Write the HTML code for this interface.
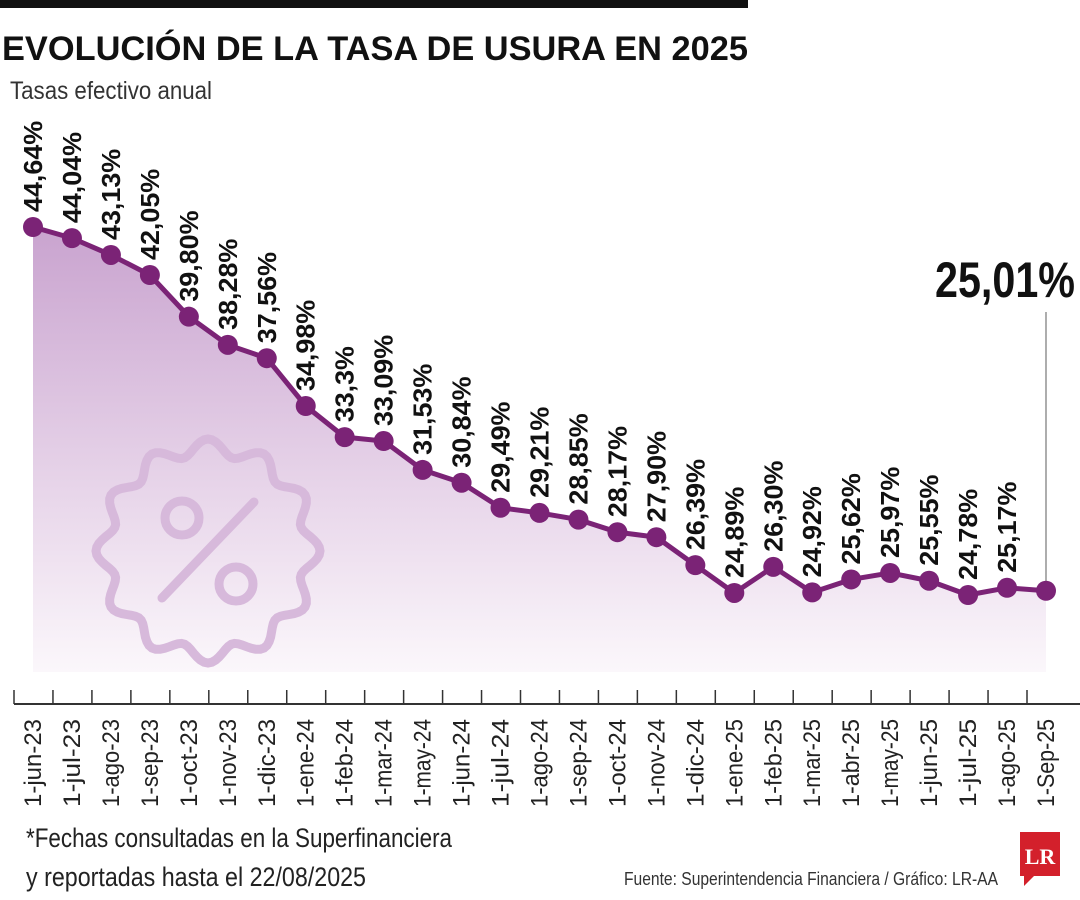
<!DOCTYPE html>
<html><head><meta charset="utf-8"><style>
body{margin:0;width:1080px;height:900px;background:#fff;overflow:hidden}
svg{display:block}
</style></head><body>
<svg width="1080" height="900" viewBox="0 0 1080 900" font-family="'Liberation Sans Narrow','Liberation Sans',sans-serif">
<defs>
<linearGradient id="fillg" x1="0" y1="0" x2="0" y2="1">
<stop offset="0" stop-color="#c9a3cf"/>
<stop offset="0.6" stop-color="#e8d6ea"/>
<stop offset="1" stop-color="#fbf7fb"/>
</linearGradient>
</defs>
<rect x="0" y="0" width="748" height="8" fill="#111"/>
<text x="2" y="60" font-family="'Liberation Sans',sans-serif" font-weight="bold" font-size="34" textLength="746" lengthAdjust="spacingAndGlyphs" fill="#111">EVOLUCIÓN DE LA TASA DE USURA EN 2025</text>
<text x="10" y="99" font-size="25" textLength="202" lengthAdjust="spacingAndGlyphs" fill="#333">Tasas efectivo anual</text>
<path id="area" fill="url(#fillg)"/>
<g id="badge" fill="none" stroke="#d7b9db" stroke-width="9">
<path id="badgePath"/>
<circle cx="182" cy="518" r="17"/>
<circle cx="236" cy="584" r="17"/>
<line x1="162" y1="598" x2="254" y2="502" stroke-linecap="round"/>
</g>
<line x1="14" y1="704" x2="1080" y2="704" stroke="#333" stroke-width="2"/>
<g id="ticks"></g>
<line x1="1046" y1="312" x2="1046" y2="588" stroke="#777" stroke-width="1.2"/>
<text x="935" y="297" font-weight="bold" font-size="50" textLength="140" lengthAdjust="spacingAndGlyphs" fill="#111">25,01%</text>
<polyline id="line" fill="none" stroke="#7b2376" stroke-width="5" stroke-linejoin="round"/>
<g id="pts"></g>
<g id="vals"></g>
<text x="26" y="847" font-size="27" textLength="426" lengthAdjust="spacingAndGlyphs" fill="#222">*Fechas consultadas en la Superfinanciera</text>
<text x="26" y="886" font-size="27" textLength="340" lengthAdjust="spacingAndGlyphs" fill="#222">y reportadas hasta el 22/08/2025</text>
<text x="624" y="885" font-size="18" textLength="374" lengthAdjust="spacingAndGlyphs" fill="#333">Fuente: Superintendencia Financiera / Gráfico: LR-AA</text>
<g>
<path d="M1020 832 H1060 V876 H1034 L1024 886 V876 H1020 Z" fill="#d3202b"/>
<text x="1040" y="864" text-anchor="middle" font-family="'Liberation Serif',serif" font-weight="bold" font-size="22" fill="#fff">LR</text>
</g>
</svg>
<script>
const categories=["1-jun-23","1-jul-23","1-ago-23","1-sep-23","1-oct-23","1-nov-23","1-dic-23","1-ene-24","1-feb-24","1-mar-24","1-may-24","1-jun-24","1-jul-24","1-ago-24","1-sep-24","1-oct-24","1-nov-24","1-dic-24","1-ene-25","1-feb-25","1-mar-25","1-abr-25","1-may-25","1-jun-25","1-jul-25","1-ago-25","1-Sep-25"];
const values=[44.64,44.04,43.13,42.05,39.80,38.28,37.56,34.98,33.3,33.09,31.53,30.84,29.49,29.21,28.85,28.17,27.90,26.39,24.89,26.30,24.92,25.62,25.97,25.55,24.78,25.17,25.01];
const valueLabels=["44,64%","44,04%","43,13%","42,05%","39,80%","38,28%","37,56%","34,98%","33,3%","33,09%","31,53%","30,84%","29,49%","29,21%","28,85%","28,17%","27,90%","26,39%","24,89%","26,30%","24,92%","25,62%","25,97%","25,55%","24,78%","25,17%",""];
const NS="http://www.w3.org/2000/svg";
const x=i=>33+i*(1046-33)/(categories.length-1);
const y=v=>227+(44.64-v)*18.53;
const pts=values.map((v,i)=>[x(i),y(v)]);
document.getElementById('line').setAttribute('points',pts.map(p=>p.join(',')).join(' '));
document.getElementById('area').setAttribute('d','M'+pts.map(p=>p.join(',')).join(' L')+` L${x(values.length-1)},672 L${x(0)},672 Z`);
// badge scallop
let d='';const cx=208,cy=551;
for(let a=0;a<=360;a+=2){const t=a*Math.PI/180;const r=104+8*Math.cos(12*t);const px=cx+r*Math.cos(t),py=cy+r*Math.sin(t);d+=(a?'L':'M')+px.toFixed(1)+','+py.toFixed(1);}
document.getElementById('badgePath').setAttribute('d',d+'Z');
const pg=document.getElementById('pts'),vg=document.getElementById('vals'),tg=document.getElementById('ticks');
pts.forEach((p,i)=>{
 const c=document.createElementNS(NS,'circle');c.setAttribute('cx',p[0]);c.setAttribute('cy',p[1]);c.setAttribute('r',10);c.setAttribute('fill','#7b2376');
 
 
 pg.appendChild(c);
 if(valueLabels[i]){
  const t=document.createElementNS(NS,'text');const ty=p[1]-15;
  t.setAttribute('transform',`translate(${p[0]+9},${ty}) rotate(-90)`);
  t.setAttribute('font-weight','bold');t.setAttribute('font-size','26');t.setAttribute('fill','#111');
  t.setAttribute('textLength',valueLabels[i].length*15.2);t.setAttribute('lengthAdjust','spacingAndGlyphs');
  t.textContent=valueLabels[i];
  
  
  vg.appendChild(t);
 }
 const l=document.createElementNS(NS,'line');l.setAttribute('x1',x(i)-19);l.setAttribute('x2',x(i)-19);l.setAttribute('y1',690);l.setAttribute('y2',704);l.setAttribute('stroke','#333');l.setAttribute('stroke-width','1.5');
 
 
 tg.appendChild(l);
 const tl=document.createElementNS(NS,'text');
 tl.setAttribute('transform',`translate(${x(i)+8},807) rotate(-90)`);
 tl.setAttribute('font-size','24');tl.setAttribute('fill','#222');
 tl.setAttribute('textLength',categories[i].length*11);tl.setAttribute('lengthAdjust','spacingAndGlyphs');
 tl.textContent=categories[i];
 
 
 tg.appendChild(tl);
});
</script>
</body></html>
